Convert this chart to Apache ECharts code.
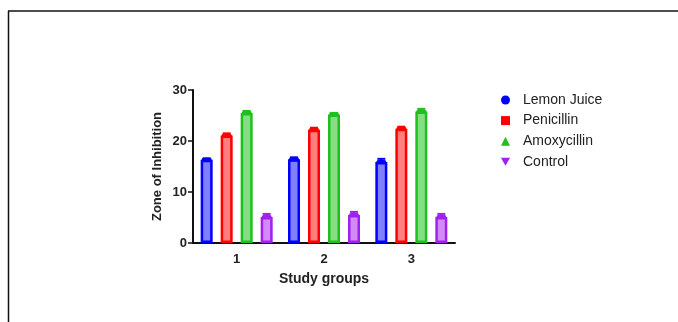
<!DOCTYPE html>
<html><head><meta charset="utf-8">
<script src="https://cdn.jsdelivr.net/npm/echarts@6/dist/echarts.min.js"></script>
<style>html,body{margin:0;padding:0;background:#fff}#c{width:678px;height:322px}</style>
</head><body><div id="c"></div>
<script>
const categories = ['1', '2', '3'];
const seriesNames = ['Lemon Juice', 'Penicillin', 'Amoxycillin', 'Control'];
const lemonJuice = [16.3, 16.4, 15.9];
const penicillin = [21.1, 22.2, 22.4];
const amoxycillin = [25.5, 25.2, 25.8];
const control = [5.1, 5.5, 5.1];
const lemonErr = [0.3, 0.4, 0.6];
const penicillinErr = [0.4, 0.4, 0.4];
const amoxyErr = [0.4, 0.3, 0.5];
const controlErr = [0.6, 0.6, 0.6];
const yTicks = [0, 10, 20, 30];

const values = [lemonJuice, penicillin, amoxycillin, control];
const errs = [lemonErr, penicillinErr, amoxyErr, controlErr];
const borders = ['#0000ff', '#ff0000', '#1ec01e', '#a020f0'];
const fills = ['#7f7fff', '#ff7f7f', '#85dd85', '#d48af5'];
const icons = ['circle', 'rect', 'triangle', 'path://M0,0L10,0L5,9Z'];
const barW = 12, gap = 8;
const font = 'Liberation Sans, Arial';

const chart = echarts.init(document.getElementById('c'));
const series = [];
values.forEach((v, i) => {
  series.push({
    name: seriesNames[i], type: 'bar', data: v, barWidth: barW, barGap: (gap / barW * 100) + '%',
    itemStyle: { color: fills[i], borderColor: borders[i], borderWidth: 2.5 },
    z: 2
  });
});
values.forEach((v, i) => {
  const off = (i - 1.5) * (barW + gap);
  series.push({
    type: 'custom', name: seriesNames[i], z: 5, silent: true,
    data: v.map((val, j) => [j, val, errs[i][j]]),
    renderItem: function (params, api) {
      const x = api.value(0), y = api.value(1), e = api.value(2);
      const top = api.coord([x, y + e]);
      const mid = api.coord([x, y]);
      const cx = top[0] + off;
      return {
        type: 'group', children: [
          { type: 'line', shape: { x1: cx, y1: top[1], x2: cx, y2: mid[1] }, style: { stroke: borders[i], lineWidth: 2 } },
          { type: 'line', shape: { x1: cx - 4, y1: top[1], x2: cx + 4, y2: top[1] }, style: { stroke: borders[i], lineWidth: 2 } },
          { type: 'rect', shape: { x: cx - 5, y: mid[1] - 2, width: 10, height: 4, r: 2 }, style: { fill: borders[i] } }
        ]
      };
    }
  });
});

chart.setOption({
  animation: false,
  legend: {
    orient: 'vertical', left: 496, top: 88, itemWidth: 9, itemHeight: 9, itemGap: 6.6,
    textStyle: { fontFamily: font, fontSize: 14, color: '#222', padding: [0, 0, 0, 8] },
    data: seriesNames.map((n, i) => ({ name: n, icon: icons[i], itemStyle: { color: borders[i], borderWidth: 0 } }))
  },
  grid: { left: 193, top: 90, width: 262, height: 153 },
  xAxis: {
    type: 'category', data: categories,
    name: 'Study groups', nameLocation: 'middle', nameGap: 29,
    nameTextStyle: { fontFamily: font, fontWeight: 'bold', fontSize: 14, color: '#222' },
    axisLine: { lineStyle: { color: '#111', width: 2 } },
    axisTick: { alignWithLabel: true, length: 5, lineStyle: { color: '#111', width: 1.5 }, interval: 0 },
    axisLabel: { fontFamily: font, fontWeight: 'bold', fontSize: 13, color: '#222', margin: 10 }
  },
  yAxis: {
    type: 'value', min: 0, max: 30, interval: 10,
    name: 'Zone of Inhibition', nameLocation: 'middle', nameGap: 29, nameRotate: 90,
    nameTextStyle: { fontFamily: font, fontWeight: 'bold', fontSize: 13, color: '#222' },
    axisLine: { show: true, lineStyle: { color: '#111', width: 2 } },
    axisTick: { show: true, length: 5, lineStyle: { color: '#111', width: 1.5 } },
    splitLine: { show: false },
    axisLabel: { fontFamily: font, fontWeight: 'bold', fontSize: 13, color: '#222', margin: 6,
      formatter: v => yTicks.includes(v) ? String(v) : '' }
  },
  graphic: [
    { type: 'line', shape: { x1: 8, y1: 11, x2: 678, y2: 11 }, style: { stroke: '#111', lineWidth: 1.5 } },
    { type: 'line', shape: { x1: 8.5, y1: 11, x2: 8.5, y2: 322 }, style: { stroke: '#111', lineWidth: 1.5 } }
  ],
  series: series
});
</script></body></html>
